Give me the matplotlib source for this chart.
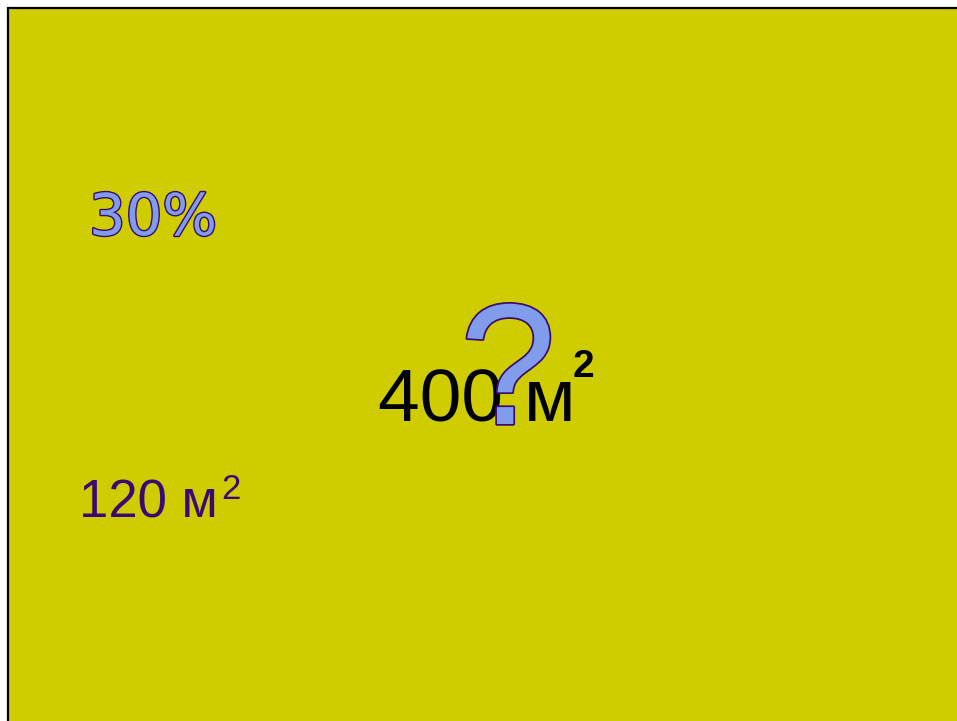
import matplotlib
matplotlib.use("Agg")
import matplotlib.pyplot as plt
import matplotlib.patheffects as pe
from matplotlib.patches import Rectangle

# slide texts
labels = ["30%", "120 м", "2", "400 м", "2", "?"]
label_pos = [(89, 235), (79, 517), (221, 499), (378, 421), (573, 377), (508, 424)]
label_size = [41.5, 38, 25, 54, 28, 124]

bg = "#cfcd00"
purple = "#3a0a72"
light_blue = "#809cea"

fig = plt.figure(figsize=(9.57, 7.21), dpi=100)
ax = fig.add_axes([0, 0, 1, 1])
ax.set_xlim(0, 957)
ax.set_ylim(721, 0)
ax.axis("off")

# yellow slide with black frame (top and left visible)
ax.add_patch(Rectangle((8, 8), 960, 730, facecolor=bg, edgecolor="black", lw=1.6))

outline = [pe.withStroke(linewidth=2, foreground=purple)]

# 30%
ax.text(*label_pos[0], labels[0], fontsize=label_size[0], family="DejaVu Sans",
        color=light_blue, va="baseline", ha="left", path_effects=outline)

# 120 m^2
ax.text(*label_pos[1], labels[1], fontsize=label_size[1], family="Liberation Sans",
        color=purple, va="baseline", ha="left")
ax.text(*label_pos[2], labels[2], fontsize=label_size[2], family="Liberation Sans",
        color=purple, va="baseline", ha="left")

# 400 m^2
ax.text(*label_pos[3], labels[3], fontsize=label_size[3], family="Liberation Sans",
        color="black", va="baseline", ha="left")
ax.text(*label_pos[4], labels[4], fontsize=label_size[4], family="Liberation Sans",
        weight="bold", color="black", va="baseline", ha="left")

# big question mark on top
ax.text(*label_pos[5], labels[5], fontsize=label_size[5], family="Liberation Sans",
        color=light_blue, va="baseline", ha="center",
        path_effects=[pe.withStroke(linewidth=2.5, foreground=purple)])

fig.savefig("out.png", dpi=100)
